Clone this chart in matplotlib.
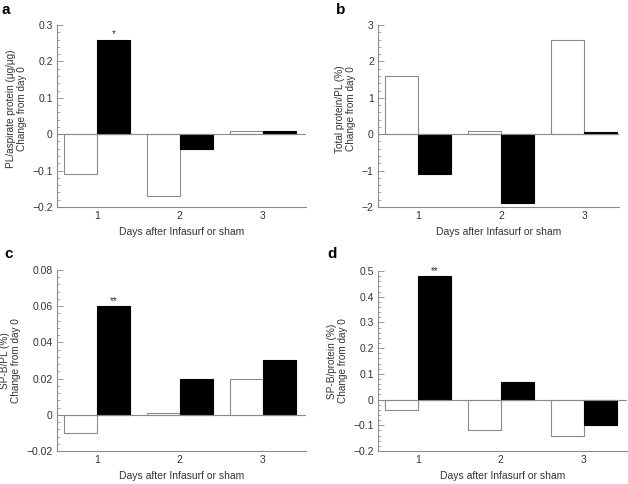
import numpy as np
import matplotlib
matplotlib.use("Agg")
import matplotlib.pyplot as plt
from matplotlib.ticker import AutoMinorLocator

plt.rcParams['font.family'] = ['Liberation Sans', 'DejaVu Sans']

days = [1, 2, 3]

# panel a: PL/aspirate protein
a_sham = [-0.11, -0.17, 0.01]
a_surf = [0.26, -0.04, 0.01]
# panel b: total protein/PL
b_sham = [1.6, 0.1, 2.6]
b_surf = [-1.1, -1.9, 0.05]
# panel c: SP-B/PL
c_sham = [-0.01, 0.001, 0.02]
c_surf = [0.06, 0.02, 0.03]
# panel d: SP-B/protein
d_sham = [-0.04, -0.12, -0.14]
d_surf = [0.48, 0.07, -0.10]

grey = '#8a8a8a'
txt = '#333333'

W, H = 628, 484
fig = plt.figure(figsize=(W / 100, H / 100), dpi=100)


def px_axes(l, r, t, b):
    return fig.add_axes([l / W, 1 - b / H, (r - l) / W, (b - t) / H])


def panel(ax, sham, surf, ylim, yticks, ticklabels, ylabel, stars, xmax=3.52, ly=0.5):
    x = np.array(days, dtype=float)
    ax.bar(x - 0.2, sham, width=0.4, color='white', edgecolor=grey, linewidth=0.8)
    ax.bar(x + 0.2, surf, width=0.4, color='black', edgecolor='black', linewidth=0.8)
    ax.axhline(0, color=grey, linewidth=0.8)
    ax.set_xlim(0.52, xmax)
    ax.set_ylim(*ylim)
    ax.set_yticks(yticks)
    ax.set_yticklabels(ticklabels)
    ax.yaxis.set_minor_locator(AutoMinorLocator(5))
    ax.set_xticks(days)
    ax.tick_params(axis='y', which='major', direction='in', length=4, width=0.6,
                   color=grey, labelsize=7.5, labelcolor=txt, pad=3)
    ax.tick_params(axis='y', which='minor', direction='in', length=2, width=0.5, color=grey)
    ax.tick_params(axis='x', length=0, labelsize=7.5, labelcolor=txt, pad=3)
    for s in ['top', 'right']:
        ax.spines[s].set_visible(False)
    for s in ['left', 'bottom']:
        ax.spines[s].set_color(grey)
        ax.spines[s].set_linewidth(0.8)
    ax.set_ylabel(ylabel, fontsize=7.2, color=txt, labelpad=4, linespacing=1.15)
    ax.yaxis.label.set_y(ly)
    ax.set_xlabel('Days after Infasurf or sham', fontsize=7.5, color=txt, labelpad=4)
    if stars:
        ax.text(1.2, surf[0], stars, ha='center', va='bottom', fontsize=7, color=txt)
    return ax


ax_a = px_axes(57, 306, 25, 207)
panel(ax_a, a_sham, a_surf, (-0.2, 0.3), [-0.2, -0.1, 0, 0.1, 0.2, 0.3],
      ['\u22120.2', '\u22120.1', '0', '0.1', '0.2', '0.3'],
      'PL/aspirate protein (\u03bcg/\u03bcg)\nChange from day 0', '*', ly=0.54)
fig.text(1 / W, 1 - 10 / H, 'a', fontsize=11, fontweight='bold', va='center')

ax_b = px_axes(378, 619, 25, 207)
panel(ax_b, b_sham, b_surf, (-2, 3), [-2, -1, 0, 1, 2, 3],
      ['\u22122', '\u22121', '0', '1', '2', '3'],
      'Total protein/PL (%)\nChange from day 0', None, xmax=3.42, ly=0.54)
fig.text(336 / W, 1 - 10 / H, 'b', fontsize=11, fontweight='bold', va='center')

ax_c = px_axes(57, 306, 270, 451)
panel(ax_c, c_sham, c_surf, (-0.02, 0.08), [-0.02, 0, 0.02, 0.04, 0.06, 0.08],
      ['\u22120.02', '0', '0.02', '0.04', '0.06', '0.08'],
      'SP-B/PL (%)\nChange from day 0', '**')
fig.text(4 / W, 1 - 254 / H, 'c', fontsize=11, fontweight='bold', va='center')

ax_d = px_axes(378, 627, 271, 451)
panel(ax_d, d_sham, d_surf, (-0.2, 0.5), [-0.2, -0.1, 0, 0.1, 0.2, 0.3, 0.4, 0.5],
      ['\u22120.2', '\u22120.1', '0', '0.1', '0.2', '0.3', '0.4', '0.5'],
      'SP-B/protein (%)\nChange from day 0', '**')
fig.text(327 / W, 1 - 254 / H, 'd', fontsize=11, fontweight='bold', va='center')

fig.savefig('out.png', dpi=100, facecolor='white')
